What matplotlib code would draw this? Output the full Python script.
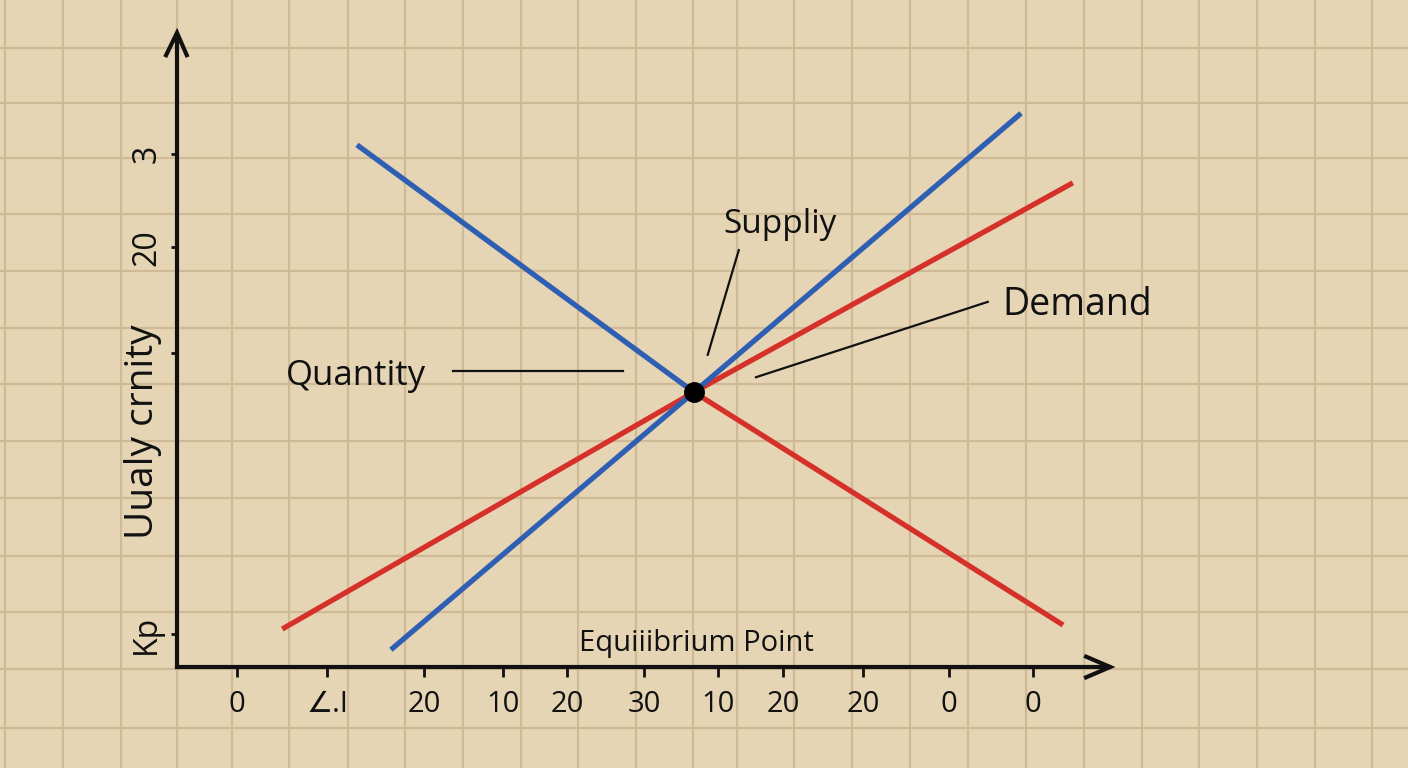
import matplotlib
matplotlib.use("Agg")
import matplotlib.pyplot as plt
from matplotlib.lines import Line2D

plt.rcParams['font.family'] = ['Open Sans', 'DejaVu Sans']

# --- data (chart units, origin at the axis corner) ---
# descending line: blue above the equilibrium, red below it
blue_down_x = [3.13, 8.99]
blue_down_y = [9.08, 4.78]
red_down_x = [8.99, 15.41]
red_down_y = [4.78, 0.73]
# rising lines
blue_up_x = [3.72, 8.99, 14.68]
blue_up_y = [0.30, 4.78, 9.63]
red_up_x = [1.83, 8.99, 15.58]
red_up_y = [0.66, 4.78, 8.42]
eq_x, eq_y = 8.99, 4.78

xticks = [1.04, 2.61, 4.30, 5.67, 6.78, 8.12, 9.41, 10.54, 11.93, 13.43, 14.89]
xticklabels = ['0', '∠.I', '20', '10', '20', '30', '10', '20', '20', '0', '0']
yticks = [8.92, 7.30, 5.46, 0.57]
yticklabels = ['3', '20', '', 'Kp']

# paper grid (pixel positions)
grid_x = [5, 63, 121, 177, 232, 289, 348, 405, 463, 521, 578, 636, 693, 737,
          794, 852, 910, 968, 1026, 1084, 1142, 1199, 1257, 1315, 1372]
grid_y = [48, 103, 158, 214, 271, 328, 384, 441, 498, 556, 612, 669, 728]

W, H = 1408, 768
ox, oy, cell = 177, 667, 57.5
BG = '#e5d5b5'
GRID = '#cfba95'
INK = '#111111'
BLUE = '#2f5fb3'
RED = '#d6302a'

fig = plt.figure(figsize=(W / 100, H / 100), dpi=100, facecolor=BG)

for gx in grid_x:
    fig.add_artist(Line2D([gx / W, gx / W], [0, 1], color=GRID, lw=1.6,
                          transform=fig.transFigure, zorder=0))
for gy in grid_y:
    fig.add_artist(Line2D([0, 1], [1 - gy / H, 1 - gy / H], color=GRID, lw=1.6,
                          transform=fig.transFigure, zorder=0))

ax = fig.add_axes([0, 0, 1, 1])
ax.patch.set_alpha(0)
ax.set_xlim(-ox / cell, (W - ox) / cell)
ax.set_ylim(-(H - oy) / cell, oy / cell)

# axes with arrows
for s in ['top', 'right']:
    ax.spines[s].set_visible(False)
ax.spines['left'].set_position(('data', 0))
ax.spines['bottom'].set_position(('data', 0))
ax.spines['left'].set_bounds(0, 11.0)
ax.spines['bottom'].set_bounds(0, 16.2)
for s in ['left', 'bottom']:
    ax.spines[s].set_linewidth(3)
    ax.spines[s].set_color(INK)
ax.plot([-0.19, 0, 0.17], [10.64, 11.03, 10.64], color=INK, lw=3,
        solid_joinstyle='miter', clip_on=False)
ax.plot([15.81, 16.23, 15.81], [0.18, 0, -0.18], color=INK, lw=3,
        solid_joinstyle='miter', clip_on=False)

ax.set_xticks(xticks)
ax.set_xticklabels(xticklabels)
ax.set_yticks(yticks)
ax.set_yticklabels(yticklabels, rotation=90, va='center')
ax.tick_params(axis='x', direction='out', length=7, width=2, color=INK,
               labelsize=21, pad=9.5, labelcolor=INK)
ax.tick_params(axis='y', direction='out', length=4, width=2, color=INK,
               labelsize=23, pad=6, labelcolor=INK)

# curves
ax.plot(red_up_x, red_up_y, color=RED, lw=3.8, solid_capstyle='butt', zorder=3)
ax.plot(red_down_x, red_down_y, color=RED, lw=3.8, solid_capstyle='butt', zorder=3)
ax.plot(blue_down_x, blue_down_y, color=BLUE, lw=3.8, solid_capstyle='butt', zorder=4)
ax.plot(blue_up_x, blue_up_y, color=BLUE, lw=3.8, solid_capstyle='butt', zorder=4)
ax.plot([eq_x], [eq_y], 'o', color='black', markersize=14, zorder=6)

# labels and leader lines
ax.text(1.90, 4.90, 'Quantity', fontsize=25, color=INK)
ax.plot([4.80, 7.76], [5.15, 5.15], color=INK, lw=1.6)
ax.text(9.50, 7.55, 'Suppliy', fontsize=24, color=INK)
ax.plot([9.77, 9.23], [7.25, 5.43], color=INK, lw=1.6)
ax.text(14.35, 6.12, 'Demand', fontsize=27, color=INK)
ax.plot([14.10, 10.07], [6.35, 5.04], color=INK, lw=1.6)
ax.text(9.04, 0.28, 'Equiiibrium Point', fontsize=21, color=INK, ha='center')
ax.text(-0.59, 4.10, 'Uualy crnity', fontsize=28, color=INK, rotation=90,
        ha='center', va='center')

fig.savefig('out.png', dpi=100, facecolor=BG)
